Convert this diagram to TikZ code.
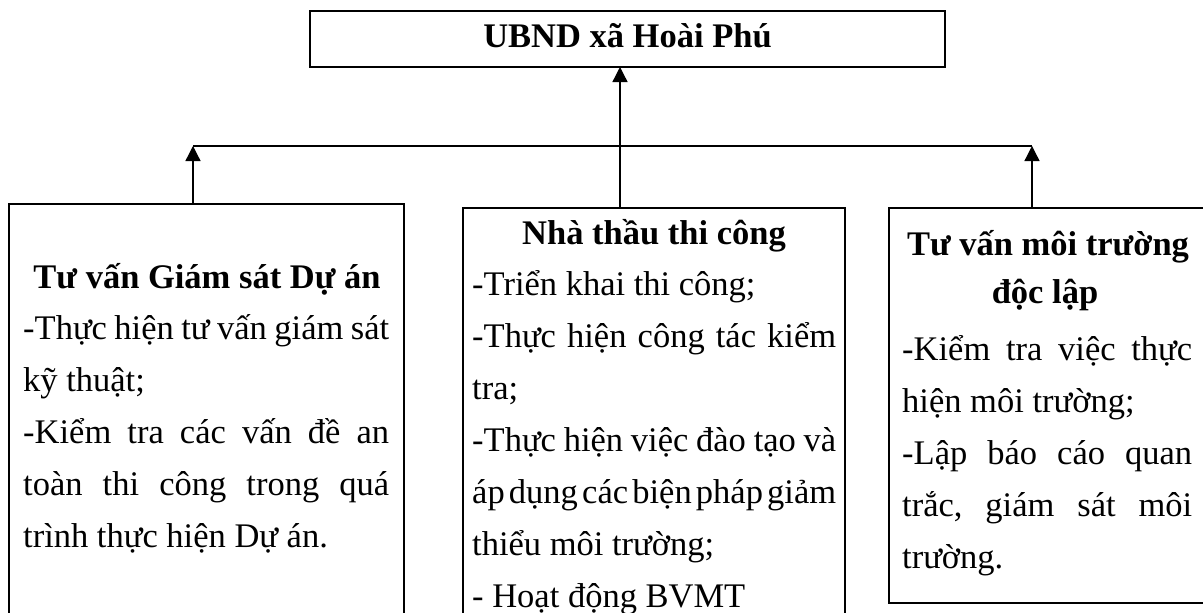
\documentclass[tikz,border=0pt]{standalone}
\usepackage{fontspec}
\setmainfont{Liberation Serif}
\usetikzlibrary{arrows.meta}
\newcommand\JL[1]{\hbox to \hsize{\frenchspacing\spaceskip=.25em plus 1fil minus .25em\relax #1}}
\newcommand\LL[1]{\hbox to \hsize{\frenchspacing #1\hfil}}
\tikzset{
  box/.style={draw, line width=1.5pt, inner sep=0pt, outer sep=0pt},
  txt/.style={inner sep=0pt, font=\fontsize{34.5}{52}\selectfont},
  ttl/.style={inner sep=0pt, font=\fontsize{34.5}{48}\selectfont\bfseries},
  ln/.style={line width=1.3pt},
  arr/.style={line width=1.3pt, -{Triangle[length=15pt,width=15pt]}}
}
\begin{document}
\begin{tikzpicture}[x=1pt,y=-1pt]
\useasboundingbox (0,0) rectangle (1203,613);
\clip (0,0) rectangle (1203,613);
% boxes
\node[box, minimum width=635pt, minimum height=56pt] (ubnd) at (627.5,39) {};
\node[ttl, anchor=base] (ubndt) at (627.5,47) {UBND xã Hoài Phú};
\node[box, minimum width=395pt, minimum height=496pt] (bl) at (206.5,452) {};
\node[box, minimum width=382pt, minimum height=492pt] (bm) at (654,454) {};
\node[box, minimum width=326pt, minimum height=395pt] (br) at (1052,405.5) {};
% connectors
\coordinate (jl) at (193,146);
\coordinate (jc) at (620,146);
\coordinate (jr) at (1032,146);
\draw[ln] (jl) -- (jr);
\draw[arr] (jl |- bl.north) -- (jl);
\draw[arr] (jr |- br.north) -- (jr);
\draw[arr] (jc |- bm.north) -- (jc |- ubnd.south);
% left box text
\node[ttl, anchor=base] (tlt) at (207,288) {Tư vấn Giám sát Dự án};
\node[txt, anchor=base west] (tlb) at (23,339) {\vtop{\hsize=366pt
  \JL{-Thực hiện tư vấn giám sát}
  \LL{kỹ thuật;}
  \JL{-Kiểm tra các vấn đề an}
  \JL{toàn thi công trong quá}
  \LL{trình thực hiện Dự án.}}};
% middle box text
\node[ttl, anchor=base] (tmt) at (654,244) {Nhà thầu thi công};
\node[txt, anchor=base west] (tmb) at (472,295) {\vtop{\hsize=364pt
  \LL{-Triển khai thi công;}
  \JL{-Thực hiện công tác kiểm}
  \LL{tra;}
  \JL{-Thực hiện việc đào tạo và}
  \JL{áp dụng các biện pháp giảm}
  \LL{thiểu môi trường;}
  \LL{- Hoạt động BVMT}}};
% right box text
\node[ttl, anchor=base] (trt) at (1048,255) {Tư vấn môi trường};
\node[ttl, anchor=base] (trt2) at (1045,303) {độc lập};
\node[txt, anchor=base west] (trb) at (902,360) {\vtop{\hsize=290pt
  \JL{-Kiểm tra việc thực}
  \LL{hiện môi trường;}
  \JL{-Lập báo cáo quan}
  \JL{trắc, giám sát môi}
  \LL{trường.}}};
\end{tikzpicture}
\end{document}
